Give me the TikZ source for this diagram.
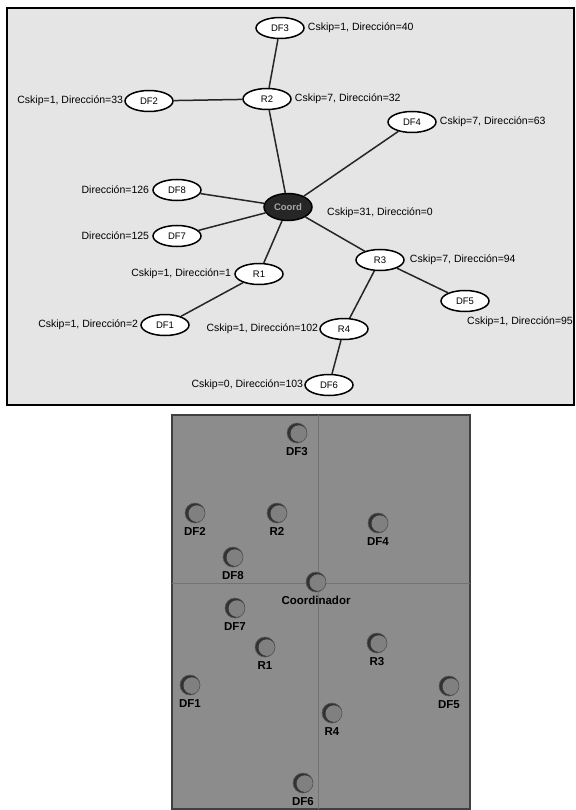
\documentclass[tikz,border=0pt]{standalone}
\usepackage{fontspec}
\setmainfont{Liberation Sans}
\usetikzlibrary{positioning,shapes.geometric}

\begin{document}
\begin{tikzpicture}[x=1pt,y=-1pt,
  nodo/.style={ellipse,draw,line width=1.5pt,fill=white,minimum width=48pt,minimum height=21pt,inner sep=0pt,font=\fontsize{9.5}{10}\selectfont},
  coord/.style={nodo,minimum height=27pt,fill=black!85,text=white!65!black,font=\bfseries\fontsize{9.5}{10}\selectfont},
  lbl/.style={font=\fontsize{10.5}{11}\selectfont,inner sep=0pt},
  enlace/.style={draw=black!85,line width=1.5pt},
  punto/.style={circle,minimum size=20pt,inner sep=0pt,draw=black!65,line width=0.6pt,fill=black!80,
    path picture={\fill[black!50] ([xshift=1.8pt,yshift=-0.6pt]path picture bounding box.center) circle (8.3pt);},
    label={[font=\bfseries\fontsize{11.5}{12}\selectfont,inner sep=1pt,label distance=3pt]below:#1}}]
\useasboundingbox (0,0) rectangle (575,810);
% arbol de la red
\draw[line width=1.5pt,fill=black!10] (7,8) rectangle (574,405);
\node[coord] (coord) at (288,207) {Coord};
\node[nodo] (r2) at (267,99) {R2};
\node[nodo] (df3) at (280,28) {DF3};
\node[nodo] (df2) at (149,101) {DF2};
\node[nodo] (df4) at (412,122) {DF4};
\node[nodo] (df8) at (177,190) {DF8};
\node[nodo] (df7) at (177,236) {DF7};
\node[nodo] (r1) at (259,274) {R1};
\node[nodo] (r3) at (380,260) {R3};
\node[nodo] (df5) at (465,301) {DF5};
\node[nodo] (r4) at (344,329) {R4};
\node[nodo] (df1) at (165,325) {DF1};
\node[nodo] (df6) at (329,385) {DF6};
\draw[enlace] (df3)--(r2) (df2)--(r2) (r2)--(coord) (df4)--(coord) (df8)--(coord) (df7)--(coord);
\draw[enlace] (r1)--(coord) (r3)--(coord) (df1)--(r1) (r4)--(r3) (df5)--(r3) (df6)--(r4);
\node[lbl,right=3pt of df3] {Cskip=1, Dirección=40};
\node[lbl,left=1pt of df2] {Cskip=1, Dirección=33};
\node[lbl,right=3pt of r2] {Cskip=7, Dirección=32};
\node[lbl,right=3pt of df4] {Cskip=7, Dirección=63};
\node[lbl,left=3pt of df8] {Dirección=126};
\node[lbl,left=3pt of df7] {Dirección=125};
\node[lbl,anchor=west] at (327,213) {Cskip=31, Dirección=0};
\node[lbl,left=3pt of r1] {Cskip=1, Dirección=1};
\node[lbl,right=5pt of r3] {Cskip=7, Dirección=94};
\node[lbl,anchor=north west] at ([xshift=2pt,yshift=-4pt]df5.south) {Cskip=1, Dirección=95};
\node[lbl,left=1pt of r4] {Cskip=1, Dirección=102};
\node[lbl,left=2pt of df1] {Cskip=1, Dirección=2};
\node[lbl,left=1pt of df6] {Cskip=0, Dirección=103};
% posiciones
\draw[line width=1.2pt,draw=black!75,fill=black!45] (172,415) rectangle (470,809);
\draw[black!55,line width=0.6pt] (318,415)--(318,809) (172,583)--(470,583);
\foreach \n/\x/\y in {DF3/297/433,DF2/195/513,R2/277/513,DF4/378/523,DF8/233/557,
  Coordinador/316/582,DF7/235/608,R1/265/647,R3/377/643,DF1/190/685,DF5/449/686,R4/332/713,DF6/303/783}
  \node[punto=\n] (p\n) at (\x,\y) {};
\end{tikzpicture}
\end{document}
